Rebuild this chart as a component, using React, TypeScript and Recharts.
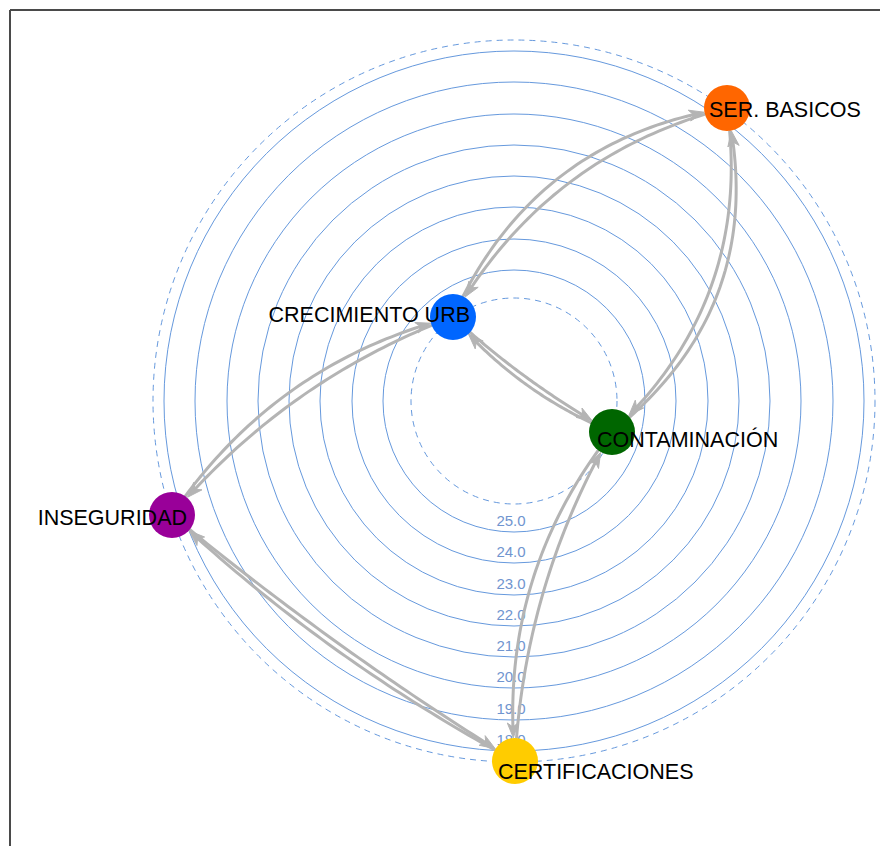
import React from 'react';
import { ScatterChart, Scatter, XAxis, YAxis, ReferenceLine } from 'recharts';

// ---- data ----
const ringLabels = ['25.0', '24.0', '23.0', '22.0', '21.0', '20.0', '19.0', '18.0'];
const ringRadii = [131, 162, 194, 225, 256, 287, 319, 350];
const levelRadii = [103, 361]; // dashed rings on which the nodes sit

const nodeNames = ['SER. BASICOS', 'CRECIMIENTO URB', 'CONTAMINACIÓN', 'INSEGURIDAD', 'CERTIFICACIONES'];
const nodeX = [213, -61, 98, -342, 1];
const nodeY = [293, 84, -31, -114, -360];

const edgeFrom = [
  'SER. BASICOS', 'CRECIMIENTO URB',
  'SER. BASICOS', 'CONTAMINACIÓN',
  'CRECIMIENTO URB', 'CONTAMINACIÓN',
  'CRECIMIENTO URB', 'INSEGURIDAD',
  'INSEGURIDAD', 'CERTIFICACIONES',
  'CERTIFICACIONES', 'CONTAMINACIÓN',
];
const edgeTo = [
  'CRECIMIENTO URB', 'SER. BASICOS',
  'CONTAMINACIÓN', 'SER. BASICOS',
  'CONTAMINACIÓN', 'CRECIMIENTO URB',
  'INSEGURIDAD', 'CRECIMIENTO URB',
  'CERTIFICACIONES', 'INSEGURIDAD',
  'CONTAMINACIÓN', 'CERTIFICACIONES',
];

// ---- styles ----
const edgeBend = [-0.21, 0.27, 0.26, -0.31, -0.06, 0.12, -0.13, 0.19, -0.035, 0.065, 0.12, -0.2];
const nodeColors = ['#ff6600', '#0066ff', '#006600', '#990099', '#ffcc00'];
const labelAnchor = ['start', 'end', 'start', 'end', 'start'];
const labelDx = [-18, 17, -15, 15, -17];
const labelDy = [9, 4.5, 14.5, 10, 17.5];

const RING_COLOR = '#6699dd';
const EDGE_COLOR = '#b4b4b4';
const NODE_R = 23;
const FONT = '"Liberation Sans", Arial, Helvetica, sans-serif';

const nodeData = nodeNames.map((name, i) => ({ name, x: nodeX[i], y: nodeY[i], idx: i }));
const nodeByName: Record<string, { x: number; y: number }> = {};
nodeData.forEach((n) => (nodeByName[n.name] = n));

const ringData = ringRadii.map((r) => [{ x: 0, y: 0 }, { x: 0, y: -r }]);
const levelData = levelRadii.map((r) => [{ x: 0, y: 0 }, { x: 0, y: -r }]);
const edgeData = edgeFrom.map((f, i) => [
  { x: nodeByName[f].x, y: nodeByName[f].y },
  { x: nodeByName[edgeTo[i]].x, y: nodeByName[edgeTo[i]].y },
]);

const NoShape = () => <g />;

function ringLine(label: string | null, dashed: boolean) {
  return (props: any) => {
    const pts = props.points;
    if (!pts || pts.length < 2) return <g />;
    const c = pts[0];
    const b = pts[1];
    const r = Math.hypot(b.x - c.x, b.y - c.y);
    return (
      <g>
        <circle
          cx={c.x}
          cy={c.y}
          r={r}
          fill="none"
          stroke={RING_COLOR}
          strokeWidth={1}
          strokeDasharray={dashed ? '6 5' : undefined}
        />
        {label ? (
          <text x={b.x - 3} y={b.y - 6} textAnchor="middle" fontSize={15} fill="#7095cf" fontFamily={FONT}>
            {label}
          </text>
        ) : null}
      </g>
    );
  };
}

function edgeLine(bend: number) {
  return (props: any) => {
    const pts = props.points;
    if (!pts || pts.length < 2) return <g />;
    const a = pts[0];
    const b = pts[1];
    const dx = b.x - a.x;
    const dy = b.y - a.y;
    const len = Math.hypot(dx, dy);
    const nx = dy / len;
    const ny = -dx / len;
    const qx = (a.x + b.x) / 2 + nx * bend * len;
    const qy = (a.y + b.y) / 2 + ny * bend * len;
    const at = (t: number) => ({
      x: (1 - t) * (1 - t) * a.x + 2 * (1 - t) * t * qx + t * t * b.x,
      y: (1 - t) * (1 - t) * a.y + 2 * (1 - t) * t * qy + t * t * b.y,
    });
    const N = 600;
    const L = 15;
    const W = 5.5;
    let t0 = 0;
    for (let i = 0; i <= N; i++) {
      const p = at(i / N);
      if (Math.hypot(p.x - a.x, p.y - a.y) >= NODE_R) {
        t0 = i / N;
        break;
      }
    }
    let tTip = 1;
    let tBase = 1;
    for (let i = N; i >= 0; i--) {
      const p = at(i / N);
      if (Math.hypot(p.x - b.x, p.y - b.y) >= NODE_R) {
        tTip = i / N;
        break;
      }
    }
    for (let i = N; i >= 0; i--) {
      const p = at(i / N);
      if (Math.hypot(p.x - b.x, p.y - b.y) >= NODE_R + L * 0.75) {
        tBase = i / N;
        break;
      }
    }
    const segs: string[] = [];
    const M = 50;
    for (let i = 0; i <= M; i++) {
      const t = t0 + ((tBase - t0) * i) / M;
      const p = at(t);
      segs.push(`${i === 0 ? 'M' : 'L'}${p.x.toFixed(2)},${p.y.toFixed(2)}`);
    }
    const tip = at(tTip);
    let back = { x: tip.x, y: tip.y };
    for (let i = Math.round(tTip * N); i >= 0; i--) {
      const p = at(i / N);
      if (Math.hypot(p.x - tip.x, p.y - tip.y) >= L) {
        back = p;
        break;
      }
    }
    const ux = (tip.x - back.x) / L;
    const uy = (tip.y - back.y) / L;
    const px = -uy;
    const py = ux;
    const bx = tip.x - ux * L;
    const by = tip.y - uy * L;
    const notchX = tip.x - ux * L * 0.72;
    const notchY = tip.y - uy * L * 0.72;
    const arrow = `M${tip.x},${tip.y} L${bx + px * W},${by + py * W} L${notchX},${notchY} L${bx - px * W},${by - py * W} Z`;
    return (
      <g>
        <path d={segs.join(' ')} fill="none" stroke={EDGE_COLOR} strokeWidth={3} strokeLinecap="round" />
        <path d={arrow} fill={EDGE_COLOR} stroke={EDGE_COLOR} strokeWidth={1} strokeLinejoin="round" />
      </g>
    );
  };
}

const NodeShape = (props: any) => {
  const { cx, cy, payload } = props;
  const i = payload.idx;
  return (
    <g>
      <circle cx={cx} cy={cy} r={NODE_R} fill={nodeColors[i]} />
      <text
        x={cx + labelDx[i]}
        y={cy + labelDy[i]}
        textAnchor={labelAnchor[i] as any}
        fontSize={21.5}
        fontFamily={FONT}
        fill="#000000"
      >
        {payload.name}
      </text>
    </g>
  );
};

export default function App() {
  return (
    <div style={{ width: 880, height: 838, overflow: 'hidden' }}>
      <ScatterChart width={880} height={838} margin={{ top: 0, right: 0, bottom: 0, left: 0 }}>
        <XAxis type="number" dataKey="x" domain={[-506, 374]} allowDataOverflow hide />
        <YAxis type="number" dataKey="y" domain={[-445, 393]} allowDataOverflow hide />
        <ReferenceLine
          segment={[
            { x: -504, y: 391 },
            { x: 374, y: 391 },
          ]}
          stroke="#4a4a4a"
          strokeWidth={2}
        />
        <ReferenceLine
          segment={[
            { x: -504, y: 391 },
            { x: -504, y: -445 },
          ]}
          stroke="#4a4a4a"
          strokeWidth={2}
        />
        {ringData.map((d, i) => (
          <Scatter
            key={`ring-${i}`}
            data={d}
            shape={NoShape}
            line={ringLine(ringLabels[i], false)}
            isAnimationActive={false}
          />
        ))}
        {levelData.map((d, i) => (
          <Scatter
            key={`level-${i}`}
            data={d}
            shape={NoShape}
            line={ringLine(null, true)}
            isAnimationActive={false}
          />
        ))}
        {edgeData.map((d, i) => (
          <Scatter
            key={`edge-${i}`}
            data={d}
            shape={NoShape}
            line={edgeLine(edgeBend[i])}
            isAnimationActive={false}
          />
        ))}
        <Scatter data={nodeData} shape={NodeShape} isAnimationActive={false} />
      </ScatterChart>
    </div>
  );
}
